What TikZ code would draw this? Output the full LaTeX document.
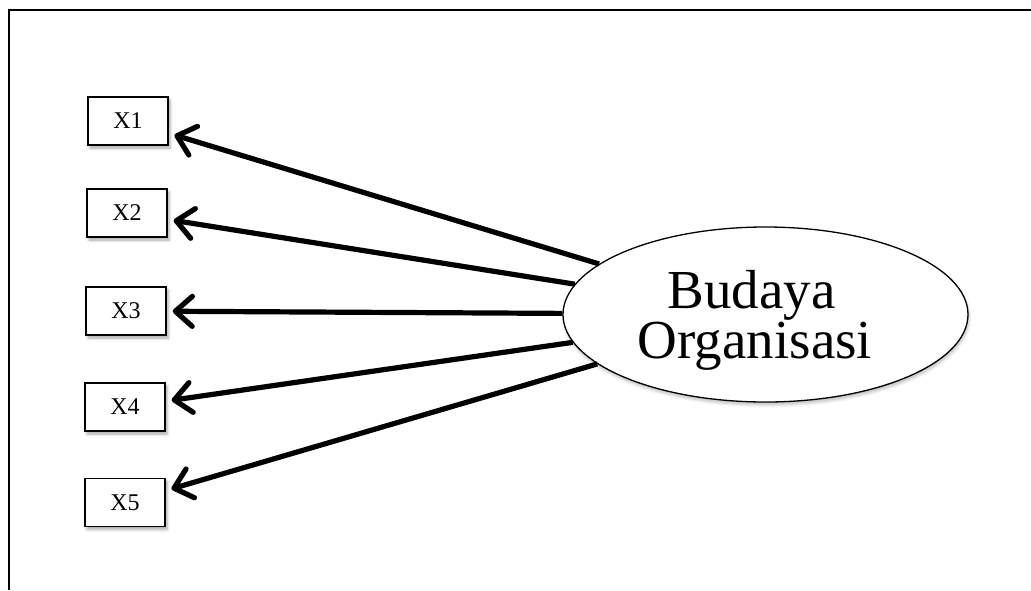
\documentclass[tikz,border=0pt]{standalone}
\usepackage{fontspec}
\setmainfont{Liberation Serif}
\usetikzlibrary{arrows.meta,shapes.geometric,shadows.blur}

\tikzset{
  frame/.style={line width=2pt},
  indicator/.style={draw, line width=1.4pt, minimum width=80pt, minimum height=48pt,
    inner sep=0pt, fill=white, font=\fontsize{24}{28}\selectfont,
    blur shadow={shadow xshift=2pt, shadow yshift=-3pt, shadow blur radius=3pt, shadow opacity=35}},
  construct/.style={draw, ellipse, line width=1.3pt, minimum width=405pt, minimum height=175pt,
    inner sep=0pt, fill=white,
    blur shadow={shadow xshift=1pt, shadow yshift=-3pt, shadow blur radius=3pt, shadow opacity=25}},
  bigtext/.style={font=\fontsize{55}{50}\selectfont, anchor=base, inner sep=0pt},
  loading/.style={-{Straight Barb[length=17pt,width=30pt,line width=5.2pt,round]},
    line width=5.2pt, shorten >=6pt}
}

\begin{document}
\begin{tikzpicture}[x=1pt,y=-1pt]
  \useasboundingbox (0,0) rectangle (1031,590);

  % open frame: top and left sides only
  \draw[frame] (8.5,590) -- (8.5,9.5) -- (1031,9.5);

  % latent construct
  \node[construct] (bo) at (765.5,314.5) {};
  \node[bigtext] (b1) at (751.5,308) {Budaya};
  \node[bigtext] (b2) at (755,358) {Organisasi};

  % indicators
  \node[indicator] (x1) at (128,121) {X1};
  \node[indicator] (x2) at (127,213) {X2};
  \node[indicator] (x3) at (126,311) {X3};
  \node[indicator] (x4) at (125,407) {X4};
  \node[indicator] (x5) at (125,502.5) {X5};

  % loadings from construct to indicators
  \foreach \i in {1,...,5}
    \draw[loading] (bo) -- (x\i);
\end{tikzpicture}
\end{document}
